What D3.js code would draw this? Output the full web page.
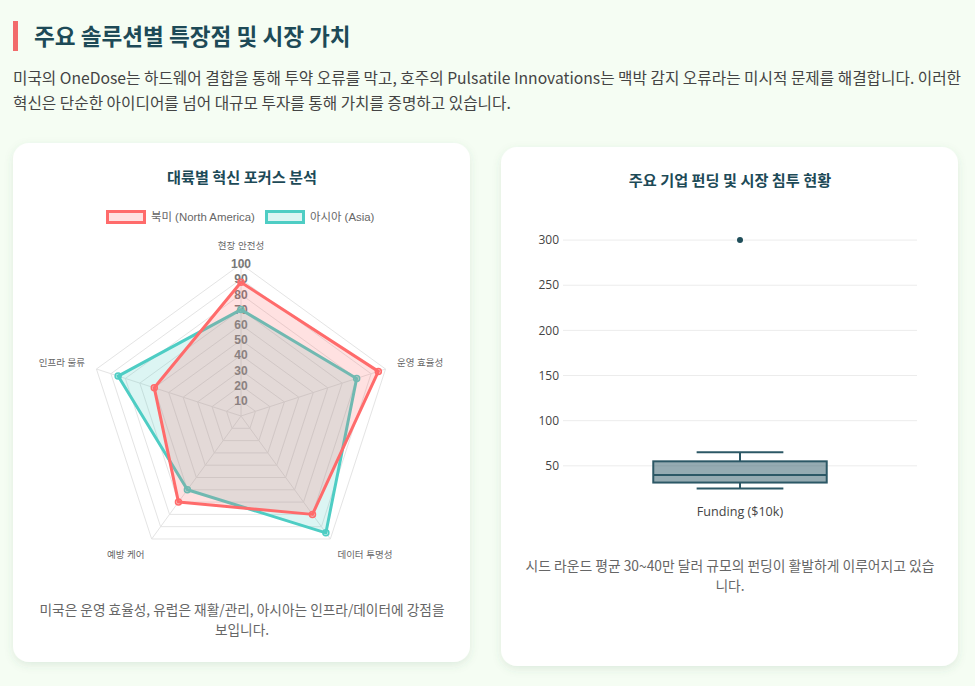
<!DOCTYPE html>
<html>
<head>
<meta charset="utf-8">
<script src="https://cdn.jsdelivr.net/npm/d3@7"></script>
<style>
  html, body { margin: 0; padding: 0; background: #f5fdf3; }
  svg { display: block; }
  text { font-family: "Noto Sans CJK KR", "Noto Sans", sans-serif; }
  .cj { font-family: "Liberation Sans", "Noto Sans CJK KR", sans-serif; }
  .pl { font-family: "Open Sans", "Noto Sans CJK KR", sans-serif; }
</style>
</head>
<body>
<div id="page"></div>
<script>
// radar data
var axes = ["현장 안전성", "운영 효율성", "데이터 투명성", "예방 케어", "인프라 물류"];
var northAmerica = [88, 95, 80, 70, 60];
var asia = [70, 80, 95, 60, 85];
var radarTicks = [10, 20, 30, 40, 50, 60, 70, 80, 90, 100];

// box plot data (funding, $10k)
var boxCategory = ["Funding ($10k)"];
var funding = [25, 28, 35, 40, 45, 65, 300];
var fundTicks = [50, 100, 150, 200, 250, 300];

var W = 975, H = 686;
var svg = d3.select("#page").append("svg").attr("width", W).attr("height", H);

var defs = svg.append("defs");
var sh = defs.append("filter").attr("id", "shadow").attr("x", "-10%").attr("y", "-10%").attr("width", "120%").attr("height", "120%");
sh.append("feDropShadow").attr("dx", 0).attr("dy", 3).attr("stdDeviation", 4)
  .attr("flood-color", "#4a7a5a").attr("flood-opacity", 0.13);

// header
svg.append("rect").attr("x", 13).attr("y", 21).attr("width", 5).attr("height", 30).attr("fill", "#f26b6b");
svg.append("text").attr("x", 34).attr("y", 45).attr("font-size", 22.6).attr("font-weight", "bold")
  .attr("fill", "#1d4a57").text("주요 솔루션별 특장점 및 시장 가치");

var para = [
  "미국의 OneDose는 하드웨어 결합을 통해 투약 오류를 막고, 호주의 Pulsatile Innovations는 맥박 감지 오류라는 미시적 문제를 해결합니다. 이러한",
  "혁신은 단순한 아이디어를 넘어 대규모 투자를 통해 가치를 증명하고 있습니다."
];
svg.selectAll(".para").data(para).enter().append("text")
  .attr("x", 13).attr("y", function(d, i) { return 84 + i * 25; })
  .attr("font-size", 15.7).attr("fill", "#444").text(function(d) { return d; });

// cards
svg.append("rect").attr("x", 13).attr("y", 143).attr("width", 457).attr("height", 519)
  .attr("rx", 16).attr("fill", "#fff").attr("filter", "url(#shadow)");
svg.append("rect").attr("x", 501).attr("y", 147).attr("width", 457).attr("height", 519)
  .attr("rx", 16).attr("fill", "#fff").attr("filter", "url(#shadow)");

svg.append("text").attr("x", 242).attr("y", 183).attr("text-anchor", "middle")
  .attr("font-size", 15.2).attr("font-weight", "bold").attr("fill", "#1d4a57").text("대륙별 혁신 포커스 분석");
svg.append("text").attr("x", 730).attr("y", 186).attr("text-anchor", "middle")
  .attr("font-size", 15.2).attr("font-weight", "bold").attr("fill", "#1d4a57").text("주요 기업 펀딩 및 시장 침투 현황");

/* ---------- radar ---------- */
var cx = 241, cy = 416;
var r = d3.scaleLinear().domain([0, 100]).range([0, 152]);
var n = axes.length;
function ang(i) { return i * 2 * Math.PI / n; }
function pt(i, v) {
  return [cx + r(v) * Math.sin(ang(i)), cy - r(v) * Math.cos(ang(i))];
}

var radar = svg.append("g");
radarTicks.forEach(function(t) {
  radar.append("polygon")
    .attr("points", axes.map(function(a, i) { return pt(i, t).join(","); }).join(" "))
    .attr("fill", "none").attr("stroke", "#e4e4e4").attr("stroke-width", 1);
});
axes.forEach(function(a, i) {
  var p = pt(i, 100);
  radar.append("line").attr("x1", cx).attr("y1", cy).attr("x2", p[0]).attr("y2", p[1])
    .attr("stroke", "#e4e4e4").attr("stroke-width", 1);
});

radar.selectAll(".tick").data(radarTicks).enter().append("text")
  .attr("class", "cj").attr("x", cx).attr("y", function(d) { return cy - r(d); })
  .attr("dy", "0.35em").attr("text-anchor", "middle").attr("font-size", 12).attr("font-weight", "bold")
  .attr("fill", "#777").text(function(d) { return d; });

// point labels
var labelPos = [
  { anchor: "middle", dy: "-0.3em" },
  { anchor: "start", dy: "0.1em" },
  { anchor: "start", dy: "1.0em" },
  { anchor: "end", dy: "1.0em" },
  { anchor: "end", dy: "0.1em" }
];
axes.forEach(function(a, i) {
  var p = pt(i, 100 + 12 / 1.52);
  radar.append("text").attr("class", "cj").attr("x", p[0]).attr("y", p[1])
    .attr("dy", labelPos[i].dy).attr("text-anchor", labelPos[i].anchor)
    .attr("font-size", 9.5).attr("fill", "#666").text(a);
});

var series = [
  { name: "아시아 (Asia)", values: asia, color: "rgb(78,205,196)" },
  { name: "북미 (North America)", values: northAmerica, color: "rgb(255,107,107)" }
];
series.forEach(function(s) {
  var pts = s.values.map(function(v, i) { return pt(i, v); });
  radar.append("path").attr("d", d3.line().curve(d3.curveLinearClosed)(pts))
    .attr("fill", s.color).attr("fill-opacity", 0.2)
    .attr("stroke", s.color).attr("stroke-width", 3).attr("stroke-linejoin", "round");
  radar.selectAll(null).data(pts).enter().append("circle")
    .attr("cx", function(d) { return d[0]; }).attr("cy", function(d) { return d[1]; })
    .attr("r", 3).attr("fill", s.color).attr("fill-opacity", 0.35)
    .attr("stroke", s.color).attr("stroke-width", 1.5);
});

// legend
var legend = [
  { name: "북미 (North America)", color: "rgb(255,107,107)", x: 106 },
  { name: "아시아 (Asia)", color: "rgb(78,205,196)", x: 265 }
];
legend.forEach(function(l) {
  svg.append("rect").attr("x", l.x + 1.5).attr("y", 211.5).attr("width", 37).attr("height", 11)
    .attr("fill", l.color).attr("fill-opacity", 0.2).attr("stroke", l.color).attr("stroke-width", 3);
  svg.append("text").attr("class", "cj").attr("x", l.x + 45).attr("y", 217).attr("dy", "0.35em")
    .attr("font-size", 11.4).attr("fill", "#666").text(l.name);
});

// left caption
["미국은 운영 효율성, 유럽은 재활/관리, 아시아는 인프라/데이터에 강점을", "보입니다."].forEach(function(t, i) {
  svg.append("text").attr("x", 242).attr("y", 615 + i * 20).attr("text-anchor", "middle")
    .attr("font-size", 13.7).attr("fill", "#666").text(t);
});

/* ---------- box plot ---------- */
var x = d3.scaleBand().domain(boxCategory).range([563, 917]);
var y = d3.scaleLinear().domain([0, 320]).range([511, 222]);

var bp = svg.append("g");
bp.selectAll(".grid").data(fundTicks).enter().append("line")
  .attr("x1", 563).attr("x2", 917)
  .attr("y1", function(d) { return y(d); }).attr("y2", function(d) { return y(d); })
  .attr("stroke", "#ececec").attr("stroke-width", 1);
bp.selectAll(".yl").data(fundTicks).enter().append("text")
  .attr("class", "pl").attr("x", 559).attr("y", function(d) { return y(d); }).attr("dy", "0.35em")
  .attr("text-anchor", "end").attr("font-size", 12).attr("fill", "#444").text(function(d) { return d; });

// clipped y-axis title
defs.append("clipPath").attr("id", "ytclip").append("rect").attr("x", 522).attr("y", 200).attr("width", 8).attr("height", 320);
bp.append("text").attr("class", "pl").attr("clip-path", "url(#ytclip)")
  .attr("transform", "translate(529,366) rotate(-90)").attr("text-anchor", "middle")
  .attr("font-size", 13).attr("fill", "#444").text("Seed Funding Amount ($10k)");

var sorted = funding.slice().sort(d3.ascending);
var q1 = d3.quantile(sorted, 0.25), med = d3.quantile(sorted, 0.5), q3 = d3.quantile(sorted, 0.75);
var iqr = q3 - q1;
var inside = sorted.filter(function(v) { return v >= q1 - 1.5 * iqr && v <= q3 + 1.5 * iqr; });
var lo = d3.min(inside), hi = d3.max(inside);
var outliers = sorted.filter(function(v) { return v < lo || v > hi; });

var xc = x(boxCategory[0]) + x.bandwidth() / 2;
var bw = x.bandwidth() * 0.49;
var dark = "#2c5866";

bp.append("line").attr("x1", xc).attr("x2", xc).attr("y1", y(hi)).attr("y2", y(q3)).attr("stroke", dark).attr("stroke-width", 2);
bp.append("line").attr("x1", xc).attr("x2", xc).attr("y1", y(q1)).attr("y2", y(lo)).attr("stroke", dark).attr("stroke-width", 2);
[lo, hi].forEach(function(v) {
  bp.append("line").attr("x1", xc - bw / 4).attr("x2", xc + bw / 4).attr("y1", y(v)).attr("y2", y(v))
    .attr("stroke", dark).attr("stroke-width", 2);
});
bp.append("rect").attr("x", xc - bw / 2).attr("width", bw).attr("y", y(q3)).attr("height", y(q1) - y(q3))
  .attr("fill", "rgba(44,88,102,0.5)").attr("stroke", dark).attr("stroke-width", 2);
bp.append("line").attr("x1", xc - bw / 2).attr("x2", xc + bw / 2).attr("y1", y(med)).attr("y2", y(med))
  .attr("stroke", dark).attr("stroke-width", 2);
bp.selectAll(".out").data(outliers).enter().append("circle")
  .attr("cx", xc).attr("cy", function(d) { return y(d); }).attr("r", 3).attr("fill", "#1f4e5a");

bp.append("text").attr("class", "pl").attr("x", xc).attr("y", 512).attr("dy", "0.35em")
  .attr("text-anchor", "middle").attr("font-size", 12.6).attr("fill", "#444").text(boxCategory[0]);

["시드 라운드 평균 30~40만 달러 규모의 펀딩이 활발하게 이루어지고 있습", "니다."].forEach(function(t, i) {
  svg.append("text").attr("x", 730).attr("y", 571 + i * 20).attr("text-anchor", "middle")
    .attr("font-size", 13.8).attr("fill", "#666").text(t);
});
</script>
</body>
</html>
